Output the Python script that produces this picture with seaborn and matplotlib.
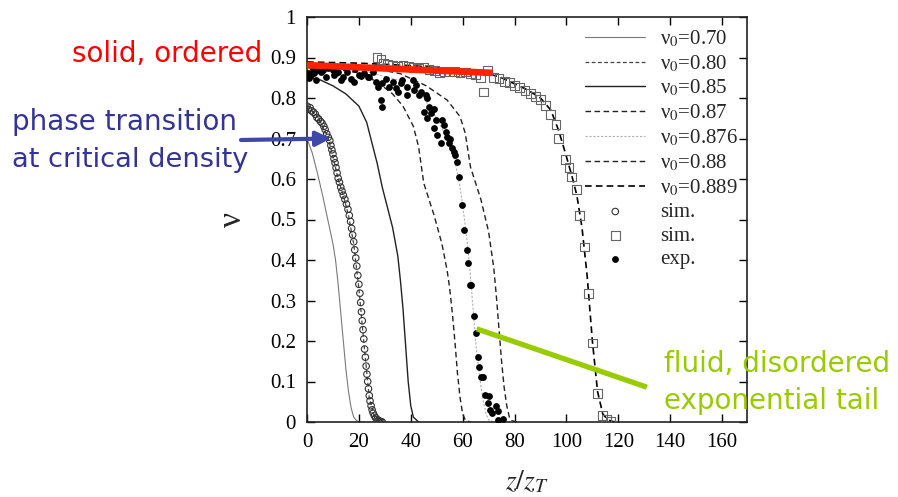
import numpy as np
import pandas as pd
import matplotlib
matplotlib.use("Agg")
import matplotlib.pyplot as plt
import seaborn as sns

# --- data -------------------------------------------------------------------

# model curves nu(z) for several inlet densities nu_0
z_070 = [0, 2, 4, 6, 8, 10, 11, 12, 13, 14, 15, 16, 17, 18, 19, 20, 22]
nu_070 = [0.70, 0.665, 0.615, 0.56, 0.50, 0.44, 0.40, 0.34, 0.27, 0.20, 0.13, 0.075, 0.035, 0.012, 0.004, 0.0, 0.0]

z_080 = [0, 4, 8, 10, 12, 14, 16, 18, 20, 22, 24, 26, 28, 30]
nu_080 = [0.78, 0.755, 0.705, 0.655, 0.60, 0.56, 0.51, 0.44, 0.33, 0.19, 0.06, 0.012, 0.002, 0.0]

z_085 = [0, 5, 10, 15, 20, 23, 25, 27, 29, 31, 33, 35, 36, 37, 38, 39, 40, 41, 43]
nu_085 = [0.85, 0.845, 0.83, 0.81, 0.78, 0.74, 0.69, 0.64, 0.58, 0.53, 0.48, 0.41, 0.35, 0.28, 0.19, 0.10, 0.04, 0.012, 0.0]

z_087 = [0, 10, 20, 27, 33, 37, 41, 43, 45, 49, 52, 54, 55, 56, 57, 58, 59, 60, 61, 63]
nu_087 = [0.875, 0.872, 0.862, 0.84, 0.81, 0.78, 0.73, 0.68, 0.59, 0.51, 0.44, 0.375, 0.33, 0.27, 0.20, 0.12, 0.06, 0.02, 0.005, 0.0]

z_0876 = [0, 20, 35, 45, 50, 54, 57, 59, 60.5, 62, 63, 64, 65, 66, 67, 68, 69, 70, 72]
nu_0876 = [0.876, 0.87, 0.845, 0.80, 0.75, 0.70, 0.645, 0.58, 0.51, 0.43, 0.36, 0.28, 0.20, 0.14, 0.09, 0.05, 0.02, 0.005, 0.0]

z_088 = [0, 20, 36, 46, 54, 59, 61, 63, 67, 70, 72, 73, 74, 75, 76, 77, 78, 79, 81]
nu_088 = [0.885, 0.88, 0.86, 0.83, 0.795, 0.754, 0.713, 0.63, 0.55, 0.47, 0.38, 0.31, 0.23, 0.15, 0.085, 0.04, 0.012, 0.003, 0.0]

z_0889 = [0, 20, 40, 60, 70, 75, 80, 85, 90, 94, 97, 100, 102, 104, 106, 108, 110, 112, 114, 116, 118, 120]
nu_0889 = [0.889, 0.886, 0.88, 0.87, 0.86, 0.85, 0.835, 0.82, 0.80, 0.77, 0.72, 0.655, 0.61, 0.56, 0.48, 0.36, 0.20, 0.075, 0.02, 0.005, 0.001, 0.0]

# simulation, circles
z_sim_c = [0.0, 0.5, 1.2, 1.8, 2.5, 3.2, 3.8, 4.5, 5.2, 5.8, 6.5, 7.0, 7.6, 8.2, 8.8,
           9.2, 9.6, 10.0, 10.4, 10.8, 11.2, 11.6, 12.0, 12.5, 13.0, 13.5, 14.0, 14.6,
           15.2, 15.8, 16.3, 16.8, 17.2, 17.6, 18.0, 18.4, 18.8, 19.2, 19.6, 20.0, 20.4,
           20.7, 21.0, 21.3, 21.6, 21.9, 22.2, 22.5, 22.8, 23.1, 23.4, 23.7, 24.0, 24.3,
           24.7, 25.1, 25.5, 26.0, 26.5, 27.0, 27.5, 28.0, 28.5, 29.0]
nu_sim_c = [0.780, 0.772, 0.776, 0.768, 0.765, 0.760, 0.752, 0.748, 0.742, 0.738, 0.730,
            0.722, 0.712, 0.703, 0.695, 0.683, 0.672, 0.662, 0.650, 0.640, 0.628, 0.615,
            0.602, 0.592, 0.580, 0.570, 0.560, 0.550, 0.538, 0.525, 0.510, 0.495, 0.478,
            0.462, 0.445, 0.425, 0.405, 0.385, 0.362, 0.340, 0.318, 0.295, 0.272, 0.250,
            0.228, 0.205, 0.180, 0.160, 0.138, 0.118, 0.100, 0.082, 0.065, 0.052, 0.040,
            0.030, 0.022, 0.015, 0.010, 0.006, 0.004, 0.002, 0.001, 0.000]

# simulation, squares
z_sim_s = [27.0, 28.5, 29.5, 31.0, 33.0, 35.0, 37.0, 39.0, 41.0, 43.0, 45.0, 47.0, 49.0,
           51.0, 53.0, 55.0, 57.0, 59.0, 61.0, 63.0, 65.0, 67.0, 68.0, 69.6, 72.0, 74.0,
           76.0, 78.0, 80.0, 82.0, 84.0, 86.0, 88.0, 90.0, 92.0, 94.0, 96.0, 97.0, 99.5,
           101.0, 102.0, 104.0, 105.0, 107.0, 108.6, 110.0, 112.0, 114.0, 115.5, 117.0]
nu_sim_s = [0.900, 0.895, 0.885, 0.882, 0.880, 0.878, 0.880, 0.877, 0.876, 0.874, 0.876,
            0.870, 0.868, 0.862, 0.866, 0.864, 0.866, 0.862, 0.864, 0.860, 0.858, 0.850,
            0.815, 0.868, 0.850, 0.848, 0.840, 0.838, 0.830, 0.826, 0.818, 0.812, 0.804,
            0.796, 0.782, 0.760, 0.735, 0.700, 0.648, 0.628, 0.605, 0.575, 0.510, 0.432,
            0.318, 0.195, 0.071, 0.017, 0.006, 0.002]

# experiment, filled dots
z_exp = [0.3, 0.8, 1.5, 2.2, 2.8, 3.5, 4.2, 5.4, 6.2, 7.3, 8.0, 9.9, 10.4, 11.2, 12.0,
         13.1, 13.7, 15.0, 15.6, 16.9, 18.2, 18.6, 20.1, 21.0, 22.0, 23.4, 24.0, 25.3,
         26.5, 27.2, 28.5, 29.1, 29.1, 30.4, 31.7, 33.0, 34.2, 34.9, 36.2, 36.8, 38.7,
         38.7, 40.7, 41.3, 41.9, 43.2, 43.8, 45.1, 45.8, 46.4, 46.4, 47.0, 47.7, 49.0,
         49.0, 49.6, 50.3, 51.5, 52.0, 52.7, 53.5, 54.0, 54.6, 55.3, 56.0, 56.5, 57.2,
         58.0, 58.6, 59.6, 60.5, 61.5, 62.2, 62.7, 63.3, 64.3, 65.0, 65.8, 66.2, 67.0,
         68.0, 68.5, 70.0, 69.6, 70.4, 71.5, 72.7, 73.8, 73.5, 75.4]
nu_exp = [0.862, 0.850, 0.857, 0.872, 0.861, 0.844, 0.870, 0.865, 0.868, 0.853, 0.873,
          0.869, 0.857, 0.861, 0.864, 0.844, 0.853, 0.877, 0.865, 0.848, 0.840, 0.872,
          0.857, 0.855, 0.861, 0.852, 0.853, 0.865, 0.840, 0.828, 0.795, 0.836, 0.778,
          0.848, 0.828, 0.840, 0.824, 0.816, 0.836, 0.844, 0.828, 0.807, 0.844, 0.820,
          0.832, 0.807, 0.816, 0.766, 0.807, 0.799, 0.750, 0.778, 0.762, 0.774, 0.726,
          0.746, 0.709, 0.689, 0.745, 0.733, 0.715, 0.704, 0.690, 0.700, 0.677, 0.667,
          0.660, 0.642, 0.605, 0.536, 0.474, 0.425, 0.392, 0.338, 0.338, 0.262, 0.220,
          0.160, 0.136, 0.111, 0.111, 0.067, 0.064, 0.047, 0.030, 0.022, 0.040, 0.027,
          0.005, 0.007]

# overlay marks (slide annotations)
z_solid_line = [0, 71.5]
nu_solid_line = [0.881, 0.862]
z_fluid_line = [65.4, 131.0]
nu_fluid_line = [0.230, 0.086]
arrow_tip = (9.2, 0.70)

legend_labels = ["ν$_0$=0.70", "ν$_0$=0.80", "ν$_0$=0.85", "ν$_0$=0.87",
                 "ν$_0$=0.876", "ν$_0$=0.88", "ν$_0$=0.889", "sim.", "sim.", "exp."]

# --- figure -------------------------------------------------------------------
W, H = 898, 497

sns.set_style("ticks")
plt.rcParams["font.family"] = ["Liberation Serif", "DejaVu Serif"]
plt.rcParams["mathtext.fontset"] = "stix"

fig = plt.figure(figsize=(W / 100, H / 100), dpi=100)
ax = fig.add_axes([307 / W, 1 - 422 / H, 440 / W, 405 / H])

curves = [
    (z_070, nu_070, dict(color="#7a7a7a", linewidth=0.8, linestyle="-")),
    (z_080, nu_080, dict(color="#444444", linewidth=0.9, linestyle=(0, (3, 2)))),
    (z_085, nu_085, dict(color="#222222", linewidth=1.0, linestyle="-")),
    (z_087, nu_087, dict(color="#222222", linewidth=1.0, linestyle=(0, (4, 2.5)))),
    (z_0876, nu_0876, dict(color="#b0b0b0", linewidth=0.8, linestyle=(0, (2, 1.5)))),
    (z_088, nu_088, dict(color="#222222", linewidth=1.0, linestyle=(0, (4, 2.5)))),
    (z_0889, nu_0889, dict(color="#000000", linewidth=1.2, linestyle=(0, (4, 2.5)))),
]
for (zz, nn, style), lab in zip(curves, legend_labels[:7]):
    sns.lineplot(x=zz, y=nn, ax=ax, label=lab, estimator=None, sort=False, **style)

sns.scatterplot(x=z_sim_c, y=nu_sim_c, ax=ax, marker="o", s=22, facecolor="none",
                edgecolor="#333333", linewidth=0.8, label=legend_labels[7], zorder=3)
sns.scatterplot(x=z_sim_s, y=nu_sim_s, ax=ax, marker="s", s=40, facecolor="none",
                edgecolor="#666666", linewidth=0.8, label=legend_labels[8], zorder=3)
sns.scatterplot(x=z_exp, y=nu_exp, ax=ax, marker="o", s=24, color="black",
                edgecolor="black", linewidth=0, label=legend_labels[9], zorder=3)

# slide overlays
ax.plot(z_solid_line, nu_solid_line, color="#ff2200", linewidth=4.8,
        solid_capstyle="butt", zorder=5)
ax.plot(z_fluid_line, nu_fluid_line, color="#99cc00", linewidth=3.8,
        solid_capstyle="butt", zorder=5)
ax.annotate("", xy=arrow_tip, xycoords="data",
            xytext=(241 / W, 1 - 140 / H), textcoords="figure fraction",
            arrowprops=dict(arrowstyle="-|>", color="#3f48a8", lw=3,
                            mutation_scale=22, shrinkA=0, shrinkB=0),
            annotation_clip=False, zorder=6)

ax.set_xlim(0, 169.6)
ax.set_ylim(0, 1)
ax.set_xticks(np.arange(0, 161, 20))
ax.set_yticks(np.round(np.arange(0, 1.01, 0.1), 1))
ax.set_yticklabels(["0", "0.1", "0.2", "0.3", "0.4", "0.5", "0.6", "0.7", "0.8", "0.9", "1"])
ax.tick_params(direction="in", top=True, right=True, length=6, width=1,
               labelsize=15, pad=8, colors="black")
for sp in ax.spines.values():
    sp.set_visible(True)
    sp.set_linewidth(1.2)
    sp.set_color("#222222")

ax.set_xlabel("$z/z_T$", fontsize=20, labelpad=12)
ax.set_ylabel("ν", fontsize=24, labelpad=16)

handles, labels = ax.get_legend_handles_labels()
ax.legend(handles, labels, loc="upper left", bbox_to_anchor=(0.632, 0.972),
          frameon=False, fontsize=15, handlelength=2.9, handletextpad=0.7,
          labelspacing=0.2, borderpad=0, borderaxespad=0, scatterpoints=1)

# slide text
sans = ["DejaVu Sans"]
fig.text(262 / W, 1 - 62 / H, "solid, ordered", color="#ff0000", fontsize=20,
         family=sans, ha="right", va="baseline")
fig.text(12 / W, 1 - 130 / H, "phase transition", color="#333399", fontsize=20,
         family=sans, ha="left", va="baseline")
fig.text(12 / W, 1 - 167 / H, "at critical density", color="#333399", fontsize=19.6,
         family=sans, ha="left", va="baseline")
fig.text(664 / W, 1 - 372 / H, "fluid, disordered", color="#99cc00", fontsize=20,
         family=sans, ha="left", va="baseline")
fig.text(664 / W, 1 - 409 / H, "exponential tail", color="#99cc00", fontsize=20,
         family=sans, ha="left", va="baseline")

fig.savefig("out.png", dpi=100, facecolor="white")
